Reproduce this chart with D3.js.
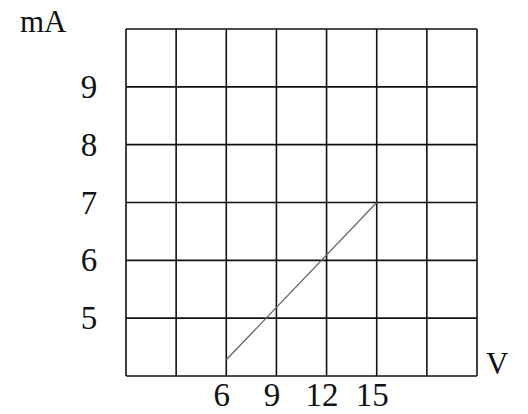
<!DOCTYPE html>
<html lang="en">
<head>
    <meta charset="UTF-8">
    <title>I-V graph</title>
    <script src="https://d3js.org/d3.v7.min.js"></script>
    <style>
        body { margin: 0; background: #fff; }
        .axis text {
            font-family: "Liberation Serif", "Times New Roman", serif;
            font-size: 33px;
            fill: #111;
        }
        .axis path { display: none; }
        .unit {
            font-family: "Liberation Serif", "Times New Roman", serif;
            font-size: 31px;
            fill: #111;
        }
        .grid line { stroke: #111; stroke-width: 1.6; }
    </style>
</head>
<body>
    <svg id="chart" width="528" height="414"></svg>

    <script>
        // grid range (volts across, milliamps up)
        var voltDomain = [0, 21];
        var currentDomain = [4, 10];
        var voltGrid = [0, 3, 6, 9, 12, 15, 18, 21];
        var currentGrid = [4, 5, 6, 7, 8, 9, 10];

        // tick labels
        var voltTicks = [6, 9, 12, 15];
        var currentTicks = [5, 6, 7, 8, 9];

        // the drawn line
        var lineVolts = [6, 15];
        var lineCurrent = [4.28, 7];

        var margin = { top: 29, right: 51, bottom: 38, left: 126 },
            width = 528 - margin.left - margin.right,
            height = 414 - margin.top - margin.bottom;

        var svg = d3.select("#chart")
            .append("g")
            .attr("transform", "translate(" + margin.left + "," + margin.top + ")");

        var x = d3.scaleLinear().domain(voltDomain).range([0, width]);
        var y = d3.scaleLinear().domain(currentDomain).range([height, 0]);

        // grid
        var grid = svg.append("g").attr("class", "grid");
        grid.selectAll(".v")
            .data(voltGrid)
            .enter().append("line")
            .attr("x1", function (d) { return x(d); })
            .attr("x2", function (d) { return x(d); })
            .attr("y1", 0)
            .attr("y2", height);
        grid.selectAll(".h")
            .data(currentGrid)
            .enter().append("line")
            .attr("y1", function (d) { return y(d); })
            .attr("y2", function (d) { return y(d); })
            .attr("x1", 0)
            .attr("x2", width);

        // data line
        var pts = lineVolts.map(function (v, i) { return [v, lineCurrent[i]]; });
        svg.append("path")
            .datum(pts)
            .attr("fill", "none")
            .attr("stroke", "#666")
            .attr("stroke-width", 1.3)
            .attr("d", d3.line()
                .x(function (d) { return x(d[0]); })
                .y(function (d) { return y(d[1]); }));

        // axes (labels only)
        svg.append("g")
            .attr("class", "axis")
            .attr("transform", "translate(0," + height + ")")
            .call(d3.axisBottom(x).tickValues(voltTicks).tickFormat(d3.format("d"))
                .tickSize(0).tickPadding(7))
            .selectAll("text")
            .attr("dx", -5);

        svg.append("g")
            .attr("class", "axis")
            .call(d3.axisLeft(y).tickValues(currentTicks).tickFormat(d3.format("d"))
                .tickSize(0).tickPadding(0))
            .selectAll("text")
            .attr("text-anchor", "middle")
            .attr("x", -37);

        // units
        svg.append("text")
            .attr("class", "unit")
            .attr("x", 20 - margin.left)
            .attr("y", 32 - margin.top)
            .text("mA");

        svg.append("text")
            .attr("class", "unit")
            .attr("x", width + 9)
            .attr("y", height - 2)
            .text("V");
    </script>
</body>
</html>
